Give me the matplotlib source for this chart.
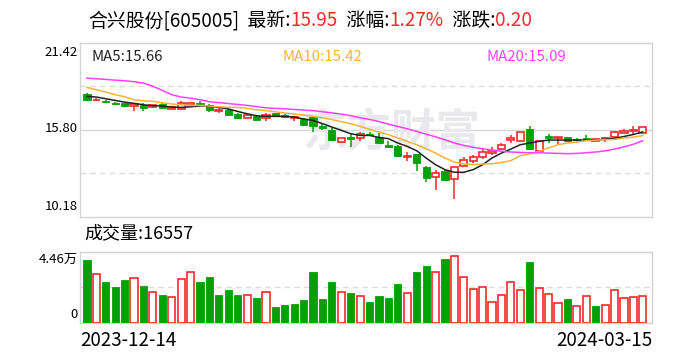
import matplotlib
matplotlib.use('Agg')
import matplotlib.pyplot as plt
import numpy as np

plt.rcParams['font.family'] = ['Noto Sans CJK SC', 'DejaVu Sans']

# daily data, 2023-12-14 .. 2024-03-15
opens = [18.10, 17.71, 17.63, 17.50, 17.54, 17.33, 17.41, 17.24, 17.48, 17.11,
         17.15, 17.37, 17.52, 17.41, 17.01, 17.07, 16.81, 16.57, 16.70, 16.57,
         16.85, 16.77, 16.53, 16.51, 16.63, 16.03, 15.80, 15.03, 15.32, 15.24,
         15.54, 15.35, 14.78, 14.72, 14.04, 14.21, 13.38, 12.77, 13.15, 12.64,
         13.48, 13.76, 14.06, 14.27, 14.57, 15.13, 15.09, 15.86, 14.44, 15.37,
         15.26, 15.30, 15.20, 15.24, 15.09, 15.18, 15.35, 15.56, 15.70, 15.60]
highs = [18.15, 17.84, 17.73, 17.58, 17.58, 17.46, 17.54, 17.41, 17.52, 17.31,
         17.63, 17.58, 17.63, 17.46, 17.20, 17.11, 16.86, 16.90, 16.74, 16.85,
         16.89, 16.83, 16.66, 16.55, 16.66, 16.23, 15.89, 15.28, 15.59, 15.67,
         15.63, 15.59, 15.05, 14.78, 14.36, 14.21, 13.45, 13.19, 13.22, 13.38,
         14.01, 14.19, 14.62, 14.66, 14.94, 15.48, 15.65, 16.01, 15.09, 15.52,
         15.30, 15.30, 15.26, 15.43, 15.22, 15.30, 15.73, 15.86, 16.01, 15.95]
lows = [17.67, 17.63, 17.50, 17.37, 17.28, 17.03, 16.98, 17.20, 17.18, 17.07,
        17.11, 17.24, 17.37, 16.94, 16.85, 16.75, 16.51, 16.53, 16.40, 16.38,
        16.66, 16.55, 16.34, 16.06, 15.65, 15.80, 15.10, 14.94, 14.68, 15.05,
        15.41, 14.90, 14.62, 14.03, 13.76, 13.11, 12.41, 11.91, 12.46, 11.33,
        13.43, 13.65, 13.93, 14.14, 14.47, 14.94, 15.09, 14.51, 14.36, 14.94,
        14.87, 15.01, 15.00, 15.09, 15.05, 15.00, 15.35, 15.56, 15.52, 15.60]
closes = [17.71, 17.75, 17.58, 17.46, 17.33, 17.43, 17.20, 17.37, 17.20, 17.24,
          17.50, 17.51, 17.48, 17.07, 17.05, 16.77, 16.55, 16.74, 16.44, 16.72,
          16.68, 16.64, 16.61, 16.10, 16.03, 15.89, 15.16, 15.24, 15.21, 15.53,
          15.45, 14.94, 14.69, 14.07, 14.10, 13.65, 12.68, 12.98, 12.53, 13.38,
          13.86, 14.06, 14.34, 14.44, 14.83, 15.26, 15.65, 14.57, 15.05, 15.26,
          15.30, 15.09, 15.13, 15.22, 15.18, 15.26, 15.63, 15.69, 15.75, 15.95]
volumes = [39365, 30570, 25545, 22405, 26800, 27850, 23030, 19055, 17380, 15915,
           27220, 31620, 25545, 28685, 17380, 20520, 17380, 17380, 15495, 19055,
           9840, 11100, 11725, 14240, 31830, 14865, 25545, 19055, 18635, 16540,
           12980, 16750, 15495, 24290, 18635, 31830, 35600, 31620, 39995, 41880,
           28475, 20940, 22195, 12980, 17380, 25335, 20310, 38110, 21565, 18005,
           12355, 14865, 10260, 16540, 10470, 11100, 20310, 15285, 15915, 16557]
ma5 = [17.95, 17.91, 17.80, 17.69, 17.58, 17.50, 17.41, 17.35, 17.33, 17.26,
       17.24, 17.28, 17.33, 17.33, 17.24, 17.14, 16.98, 16.83, 16.70, 16.66,
       16.66, 16.66, 16.62, 16.49, 16.40, 16.19, 15.97, 15.76, 15.54, 15.43,
       15.43, 15.30, 15.22, 14.94, 14.72, 14.44, 13.97, 13.54, 13.22, 13.05,
       13.05, 13.22, 13.54, 13.97, 14.29, 14.55, 14.83, 14.94, 15.05, 15.13,
       15.13, 15.13, 15.13, 15.13, 15.15, 15.17, 15.24, 15.36, 15.49, 15.66]
ma10 = [18.53, 18.38, 18.23, 18.06, 17.93, 17.73, 17.67, 17.63, 17.54, 17.46,
        17.41, 17.37, 17.37, 17.33, 17.28, 17.25, 17.24, 17.18, 17.09, 17.03,
        16.96, 16.88, 16.81, 16.75, 16.66, 16.57, 16.45, 16.32, 16.19, 16.02,
        15.82, 15.65, 15.48, 15.26, 15.05, 14.83, 14.57, 14.29, 13.97, 13.71,
        13.58, 13.54, 13.58, 13.60, 13.68, 13.80, 14.12, 14.23, 14.40, 14.62,
        14.83, 14.94, 15.00, 15.09, 15.13, 15.15, 15.17, 15.26, 15.32, 15.42]
ma20 = [19.13, 19.09, 19.05, 19.00, 18.96, 18.90, 18.81, 18.60, 18.34, 18.06,
        17.91, 17.84, 17.74, 17.61, 17.55, 17.49, 17.43, 17.37, 17.29, 17.21,
        17.18, 17.15, 17.11, 17.07, 17.03, 16.96, 16.89, 16.81, 16.71, 16.57,
        16.46, 16.33, 16.16, 16.01, 15.86, 15.69, 15.51, 15.34, 15.15, 14.94,
        14.79, 14.66, 14.57, 14.49, 14.41, 14.36, 14.33, 14.31, 14.31, 14.29,
        14.27, 14.25, 14.27, 14.31, 14.36, 14.43, 14.55, 14.69, 14.86, 15.09]
price_ticks = [10.18, 15.80, 21.42]
vol_top = 44600
dates = ['2023-12-14', '2024-03-15']

RED = '#f22a2a'
GREEN = '#04a004'
W, H = 688, 360

fig = plt.figure(figsize=(W / 100, H / 100), dpi=100)
ax = fig.add_axes([80 / W, 1 - 216.7 / H, 572 / W, 174 / H])
axv = fig.add_axes([80 / W, 1 - 322.7 / H, 572 / W, 71 / H])

x = np.arange(len(closes))
o = np.array(opens)
c = np.array(closes)
up = c >= o

for a in (ax, axv):
    a.set_xlim(-0.74, 59.98)
    a.set_xticks([])
    a.set_yticks([])
    for s in a.spines.values():
        s.set_color('#d4d4d8')
        s.set_linewidth(1)

ax.set_ylim(price_ticks[0], price_ticks[-1])
q1 = price_ticks[0] + (price_ticks[-1] - price_ticks[0]) * 0.25
q3 = price_ticks[0] + (price_ticks[-1] - price_ticks[0]) * 0.75
ax.axhline(price_ticks[1], color='#d6d6d6', lw=1, zorder=0)
ax.axhline(q1, color='#dcdcdc', lw=1, ls=(0, (4, 3)), zorder=0)
ax.axhline(q3, color='#dcdcdc', lw=1, ls=(0, (4, 3)), zorder=0)

# watermark
ax.text(0.545, 0.48, '东方财富', transform=ax.transAxes, fontsize=32,
        color='#e9e9ed', ha='center', va='center', fontweight='bold', zorder=0)

# candles
wick_col = [RED if u else GREEN for u in up]
ax.vlines(x, lows, highs, colors=wick_col, lw=1.1, zorder=2)
body_lo = np.minimum(o, c)
body_h = np.maximum(np.abs(c - o), 0.03)
ax.bar(x[up], body_h[up], bottom=body_lo[up], width=0.76,
       facecolor='white', edgecolor=RED, linewidth=1.2, zorder=3)
ax.bar(x[~up], body_h[~up], bottom=body_lo[~up], width=0.76,
       facecolor=GREEN, edgecolor=GREEN, linewidth=0.6, zorder=3)

ax.plot(x, ma5, color='#222222', lw=1.1, zorder=4)
ax.plot(x, ma10, color='#f7b23b', lw=1.1, zorder=4)
ax.plot(x, ma20, color='#ff40ff', lw=1.1, zorder=4)

# volume, coloured by close vs previous close
vol_up = np.r_[False, c[1:] > c[:-1]]
v = np.array(volumes)
axv.set_ylim(0, vol_top)
axv.axhline(vol_top / 2, color='#dcdcdc', lw=1, ls=(0, (4, 3)), zorder=0)
axv.bar(x[vol_up], v[vol_up], width=0.76, facecolor='white',
        edgecolor=RED, linewidth=1.2, zorder=3)
axv.bar(x[~vol_up], v[~vol_up], width=0.76, facecolor=GREEN,
        edgecolor=GREEN, linewidth=0.6, zorder=3)


def ftext(px, py, s, **kw):
    return fig.text(px / W, 1 - py / H, s, **kw)


# title line
renderer = fig.canvas.get_renderer()
parts = [('合兴股份[605005]', 'black'), ('  最新:', 'black'), ('15.95', RED),
         ('  涨幅:', 'black'), ('1.27%', RED), ('  涨跌:', 'black'), ('0.20', RED)]
tx = 88
for s, col in parts:
    t = ftext(tx, 21, s, color=col, fontsize=13.6, va='center', ha='left')
    tx += t.get_window_extent(renderer).width

ftext(91, 57, 'MA5:%.2f' % ma5[-1], color='#222222', fontsize=10.8, va='center')
ftext(283, 57, 'MA10:%.2f' % ma10[-1], color='#f7b23b', fontsize=10.8, va='center')
ftext(487, 57, 'MA20:%.2f' % ma20[-1], color='#ff40ff', fontsize=10.8, va='center')

ftext(78, 53, '%.2f' % price_ticks[2], fontsize=9.5, ha='right', va='center')
ftext(78, 128, '%.2f' % price_ticks[1], fontsize=9.5, ha='right', va='center')
ftext(78, 206, '%.2f' % price_ticks[0], fontsize=9.5, ha='right', va='center')

ftext(84, 233, '成交量:%d' % volumes[-1], fontsize=13, va='center')
ftext(78, 259, '%.2f万' % (vol_top / 10000), fontsize=9.5, ha='right', va='center')
ftext(78, 315, '0', fontsize=9.5, ha='right', va='center')

ftext(80, 341, dates[0], fontsize=13.5, va='center', ha='left')
ftext(652, 341, dates[1], fontsize=13.5, va='center', ha='right')

fig.savefig('out.png', dpi=100, facecolor='white')
